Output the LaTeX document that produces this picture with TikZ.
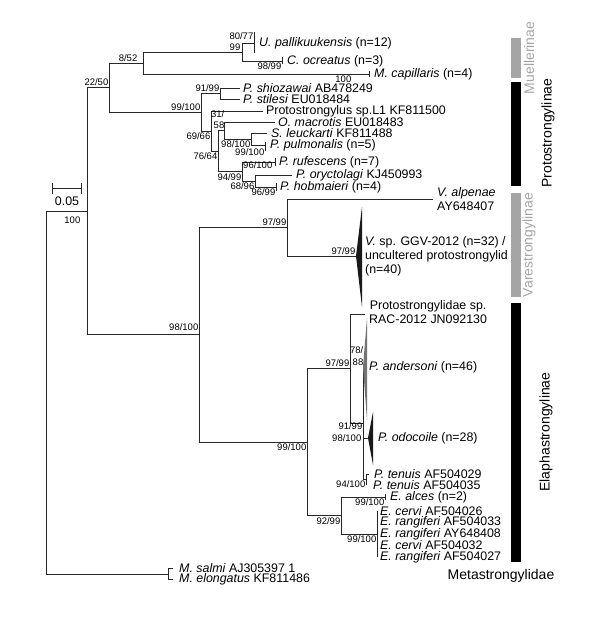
\documentclass[tikz,border=0pt]{standalone}
\usepackage{fontspec}
\setmainfont{Liberation Sans}
\usetikzlibrary{arrows.meta,positioning,calc}
\definecolor{cladegrey}{RGB}{165,165,165}

\begin{document}
\begin{tikzpicture}[
    x=1pt, y=-1pt,
    font=\fontsize{12.4}{14}\selectfont,
    br/.style={line width=0.9pt, draw=black!85},
    bs/.style={font=\fontsize{9.5}{11.5}\selectfont, inner sep=0.5pt, align=right},
    bsa/.style={bs, anchor=south east, yshift=1pt},
    bsb/.style={bs, anchor=north east, yshift=-1pt},
    tip/.style={inner sep=0pt, align=left},
    grp/.style={rotate=90, font=\fontsize{14}{16}\selectfont}
  ]
    \useasboundingbox (0,0) rectangle (590,625);

    \coordinate (r) at (46,392.5);
    \coordinate (a) at (87,211);
    \coordinate (b) at (109,87.5);
    \coordinate (d) at (143,63);
    \coordinate (f) at (242,52);
    \coordinate (e) at (201,112);
    \coordinate (g) at (220,93.5);
    \coordinate (h) at (211,131);
    \coordinate (i) at (218,151);
    \coordinate (j) at (224,130.5);
    \coordinate (l) at (251,139);
    \coordinate (k) at (242,171.5);
    \coordinate (m) at (255,181);
    \coordinate (c) at (199,334.75);
    \coordinate (v) at (287,227.5);
    \coordinate (p) at (307,442);
    \coordinate (q97) at (350,368.5);
    \coordinate (q91) at (363,423);
    \coordinate (t) at (366,479);
    \coordinate (e92) at (341,515.5);
    \coordinate (ec) at (377,534);
    \coordinate (ms) at (168,574);

    \coordinate (tUp) at (254,43);
    \coordinate (tCo) at (282,61);
    \coordinate (tMc) at (369,74);
    \coordinate (tPs) at (240,88);
    \coordinate (tPt) at (240,99);
    \coordinate (tPL) at (263,111);
    \coordinate (tOm) at (275,122);
    \coordinate (tSl) at (267,133);
    \coordinate (tPp) at (265,145);
    \coordinate (tPr) at (275,162);
    \coordinate (tPo) at (292,175);
    \coordinate (tPh) at (276,187);
    \coordinate (tVa) at (433,199);
    \coordinate (tVs) at (356,256);
    \coordinate (tPS) at (365,314);
    \coordinate (tPa) at (363,367);
    \coordinate (tPd) at (368,438);
    \coordinate (tT1) at (369,474);
    \coordinate (tT2) at (366,485);
    \coordinate (tEa) at (385,497);
    \coordinate (tE1) at (377,511);
    \coordinate (tE2) at (377,522.5);
    \coordinate (tE3) at (377,534);
    \coordinate (tE4) at (377,545.5);
    \coordinate (tE5) at (377,557);
    \coordinate (tM1) at (173,568);
    \coordinate (tM2) at (173,579);

    \draw[br] (r) |- (a) (r) |- (ms) (a) |- (b) (a) |- (c)
      (b) |- (d) (b) |- (e) (d) |- (f) (d) |- (tMc)
      (f) |- (tUp) (f) |- (tCo) (e) |- (g) (e) |- (h)
      (g) |- (tPs) (g) |- (tPt) (h) |- (tPL) (h) |- (i)
      (i) |- (j) (i) |- (k) (j) |- (tOm) (j) |- (l)
      (l) |- (tSl) (l) |- (tPp) (k) |- (tPr) (k) |- (m)
      (m) |- (tPo) (m) |- (tPh);
    \draw[br] (c) |- (v) (c) |- (p) (v) |- (tVa) (v) |- (tVs)
      (p) |- (q97) (p) |- (e92) (q97) |- (tPS) (q97) |- (q91)
      (q91) |- (tPa) (q91) |- (tPd) (q91) |- (t)
      (t) |- (tT1) (t) |- (tT2) (e92) |- (tEa) (e92) |- (ec)
      (ec) |- (tE1) (ec) |- (tE5) (ms) |- (tM1) (ms) |- (tM2);
    \draw[br] ($(tUp)+(0,-11)$) -- ($(tUp)+(0,10)$)
      ($(tCo)+(0,-4)$) -- ($(tCo)+(0,3)$)
      ($(tMc)+(0,-3)$) -- ($(tMc)+(0,3)$)
      ($(tPp)+(0,-3)$) -- ($(tPp)+(0,6)$)
      ($(tPr)+(0,-4)$) -- ($(tPr)+(0,4)$)
      ($(tPh)+(0,-4)$) -- ($(tPh)+(0,4)$)
      ($(tEa)+(0,-3)$) -- ($(tEa)+(0,3)$);
    \fill[black!90] (tVs) -- ++(6,-49) -- ++(0,100) -- cycle;
    \fill[black!55] (tPa) -- ++(4,-49) -- ++(0,102) -- cycle;
    \fill[black!90] (tPd) -- ++(5,-26) -- ++(0,53) -- cycle;

    \node[tip, right=5pt of tUp] (Up) {\textit{U. pallikuukensis} (n=12)};
    \node[tip, right=5pt of tCo] (Co) {\textit{C. ocreatus} (n=3)};
    \node[tip, right=5pt of tMc] (Mc) {\textit{M. capillaris} (n=4)};
    \node[tip, right=3pt of tPs] (Ps) {\textit{P. shiozawai} AB478249};
    \node[tip, right=3pt of tPt] (Pt) {\textit{P. stilesi} EU018484};
    \node[tip, right=3pt of tPL] (PL) {Protostrongylus sp.L1 KF811500};
    \node[tip, right=3pt of tOm] (Om) {\textit{O. macrotis} EU018483};
    \node[tip, right=4pt of tSl] (Sl) {\textit{S. leuckarti} KF811488};
    \node[tip, right=5pt of tPp] (Pp) {\textit{P. pulmonalis} (n=5)};
    \node[tip, right=4pt of tPr] (Pr) {\textit{P. rufescens} (n=7)};
    \node[tip, right=4pt of tPo] (Po) {\textit{P. oryctolagi} KJ450993};
    \node[tip, right=4pt of tPh] (Ph) {\textit{P. hobmaieri} (n=4)};
    \node[tip, right=4pt of tVa] (Va) {\textit{V. alpenae}\\AY648407};
    \node[tip, right=9pt of tVs] (Vs) {\textit{V.} sp. GGV-2012 (n=32) /\\uncultered protostrongylid\\(n=40)};
    \node[tip, right=4pt of tPS, align=center, yshift=2pt] (PS) {Protostrongylidae sp.\\RAC-2012 JN092130};
    \node[tip, right=6pt of tPa] (Pa) {\textit{P. andersoni} (n=46)};
    \node[tip, right=10pt of tPd] (Pd) {\textit{P. odocoile} (n=28)};
    \node[tip, right=5pt of tT1] (T1) {\textit{P. tenuis} AF504029};
    \node[tip, right=7pt of tT2] (T2) {\textit{P. tenuis} AF504035};
    \node[tip, right=5pt of tEa] (Ea) {\textit{E. alces} (n=2)};
    \node[tip, right=3pt of tE1] (E1) {\textit{E. cervi} AF504026};
    \node[tip, right=3pt of tE2] (E2) {\textit{E. rangiferi} AF504033};
    \node[tip, right=3pt of tE3] (E3) {\textit{E. rangiferi} AY648408};
    \node[tip, right=3pt of tE4] (E4) {\textit{E. cervi} AF504032};
    \node[tip, right=3pt of tE5] (E5) {\textit{E. rangiferi} AF504027};
    \node[tip, right=6pt of tM1] (M1) {\textit{M. salmi} AJ305397 1};
    \node[tip, right=6pt of tM2] (M2) {\textit{M. elongatus} KF811486};

    \node[bsb, xshift=-6pt, yshift=-4pt] (s100) at (a) {100};
    \node[bsa] (s2250) at (b) {22/50};
    \node[bsa, xshift=-5pt] (s852) at (d) {8/52};
    \node[bsa, yshift=2pt] (s8077) at (tUp) {80/77};
    \node[bsa, xshift=-1pt] (s99) at (f) {99};
    \node[bsb] (s9899) at (tCo) {98/99};
    \node[bsb, xshift=-17pt] (sMc) at (tMc) {100};
    \node[bsa] (s99100) at (e) {99/100};
    \node[bsa] (s9199) at (g) {91/99};
    \node[bsb] (s6966) at (h) {69/66};
    \node[bsa, xshift=1pt] (s3158) at (j) {31/\\58};
    \node[bsb] (s7664) at (i) {76/64};
    \node[bsb] (s98l) at (l) {98/100};
    \node[bsb, yshift=-2pt] (sPp) at (tPp) {99/100};
    \node[bsb] (s9499) at (k) {94/99};
    \node[bsb, xshift=-2pt, yshift=2pt] (sPr) at (tPr) {96/100};
    \node[bsb] (s6896) at (m) {68/96};
    \node[bsb] (sPh) at (tPh) {96/99};
    \node[bsa, yshift=2pt] (s98c) at (c) {98/100};
    \node[bsa] (s97v) at (v) {97/99};
    \node[bsa] (sVs) at (tVs) {97/99};
    \node[bsb] (s99p) at (p) {99/100};
    \node[bsa] (s97q) at (q97) {97/99};
    \node[bsa, xshift=1pt] (s7888) at (tPa) {78/\\88};
    \node[bsb, yshift=2pt] (s91q) at (q91) {91/99};
    \node[bs, anchor=east, xshift=-6pt] (sPd) at (tPd) {98/100};
    \node[bsb] (s94t) at (t) {94/100};
    \node[bsb] (s92) at (e92) {92/99};
    \node[bsb] (sEa) at (tEa) {99/100};
    \node[bsb] (sec) at (ec) {99/100};

    \coordinate (s0) at (52,188);
    \coordinate (s1) at (82,188);
    \coordinate (sm) at ($(s0)!0.5!(s1)$);
    \draw[br, {Bar[width=11pt]}-{Bar[width=11pt]}] (s0) -- (s1);
    \node[inner sep=0pt, below=9pt of sm] (sl) {0.05};

    \fill[cladegrey] (511,38) rectangle (521,78);
    \fill[black] (511,82) rectangle (521,186);
    \fill[cladegrey] (511,193) rectangle (521,297);
    \fill[black] (511,303) rectangle (521,562);
    \node[grp, text=cladegrey] (mue) at (529,58) {Muellerinae};
    \node[grp] (pro) at (548,133) {Protostrongylinae};
    \node[grp, text=cladegrey] (var) at (529,245) {Varestrongylinae};
    \node[grp] (ela) at (546,432) {Elaphastrongylinae};
    \node[font=\fontsize{14}{16}\selectfont] (met) at (501,576) {Metastrongylidae};
  \end{tikzpicture}
\end{document}
